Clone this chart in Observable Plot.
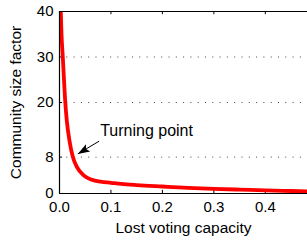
<!DOCTYPE html>
<html>
<head>
<meta charset="utf-8">
<script src="https://cdn.jsdelivr.net/npm/d3@7"></script>
<script src="https://cdn.jsdelivr.net/npm/@observablehq/plot@0.6"></script>
<style>
  html, body { margin: 0; padding: 0; background: #fff; overflow: hidden; }
  svg { font-family: "Liberation Sans", Arial, sans-serif; }
</style>
</head>
<body>
<div id="chart"></div>
<script>
// Curve
const lostCapacity = [0.0025, 0.0039, 0.0064, 0.0092, 0.011, 0.0142, 0.0194, 0.026, 0.034, 0.047, 0.063, 0.08, 0.1, 0.12, 0.15, 0.2, 0.25, 0.3, 0.35, 0.4, 0.45, 0.482];
const sizeFactor   = [40, 35, 30, 24, 20.4, 16, 11.6, 8, 5.8, 4.0, 3.0, 2.6, 2.35, 2.1, 1.85, 1.54, 1.25, 1.02, 0.85, 0.68, 0.55, 0.46];

// Axes
const xTicks = [0, 0.1, 0.2, 0.3, 0.4];
const yTicks = [0, 8, 20, 30, 40];
const gridLevels = [8, 20, 30];

// Annotation
const annotationText = ["Turning point"];
const annotationTextPos = [0.079, 13.8];
const arrowTail = [0.077, 11.5];
const arrowTip = [0.0355, 8.7];

const curve = lostCapacity.map((x, i) => ({x, y: sizeFactor[i]}));

// narrow filled arrowhead with tip at origin pointing up
const arrowHead = {
  draw(context) {
    context.moveTo(0, 0);
    context.lineTo(-4.2, 12);
    context.lineTo(0, 9.5);
    context.lineTo(4.2, 12);
    context.closePath();
  }
};

const chart = Plot.plot({
  width: 307,
  height: 242,
  marginLeft: 59,
  marginRight: 0,
  marginTop: 11,
  marginBottom: 49,
  style: {fontFamily: "Liberation Sans, Arial, sans-serif", background: "#fff"},
  x: {domain: [0, 0.482], ticks: xTicks},
  y: {domain: [0, 40], ticks: yTicks},
  marks: [
    // dotted grid
    Plot.ruleY(gridLevels, {stroke: "#444", strokeWidth: 1, strokeDasharray: "1,6.3"}),
    // inward ticks bottom and top
    Plot.ruleX(xTicks, {y1: 0, y2: 0.7, stroke: "#000"}),
    Plot.ruleX(xTicks, {y1: 40, y2: 39.3, stroke: "#000"}),
    Plot.ruleY(yTicks, {x1: 0, x2: 0.006, stroke: "#000"}),
    // curve
    Plot.line(curve, {x: "x", y: "y", stroke: "#ff0000", strokeWidth: 3.8, curve: "monotone-x", clip: true}),
    // frame lines (right side cropped)
    Plot.ruleY([0], {stroke: "#000", strokeWidth: 1.2}),
    Plot.ruleY([40], {stroke: "#000", strokeWidth: 1.2}),
    Plot.ruleX([0], {stroke: "#000", strokeWidth: 1.2}),
    // axes
    Plot.axisX(xTicks, {tickSize: 0, tickPadding: 8, fontSize: 15, fill: "#000",
      label: "Lost voting capacity", labelAnchor: "center", labelArrow: "none", labelOffset: 39}),
    Plot.axisY(yTicks, {tickSize: 0, tickPadding: 6, fontSize: 15, fill: "#000",
      label: "Community size factor", labelAnchor: "center", labelArrow: "none", labelOffset: 50}),
    // annotation
    Plot.link([0], {x1: () => arrowTail[0], y1: () => arrowTail[1], x2: () => arrowTip[0], y2: () => arrowTip[1], stroke: "#000", strokeWidth: 1}),
    Plot.dot([0], {x: () => arrowTip[0], y: () => arrowTip[1], symbol: arrowHead, r: 5, fill: "#000", stroke: "none", rotate: -120.5}),
    Plot.text(annotationText, {x: () => annotationTextPos[0], y: () => annotationTextPos[1], text: d => d, textAnchor: "start", lineAnchor: "middle", fontSize: 16, fill: "#000"})
  ]
});

// label font sizes
chart.querySelectorAll("[aria-label='x-axis label'] text, [aria-label='y-axis label'] text").forEach(t => t.setAttribute("font-size", "15.5"));
document.getElementById("chart").appendChild(chart);
</script>
</body>
</html>
